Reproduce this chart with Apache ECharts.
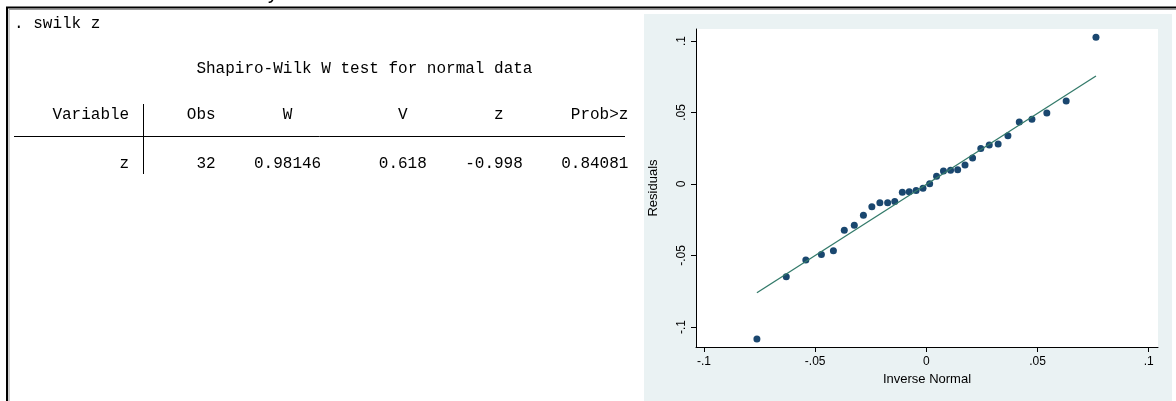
<!DOCTYPE html>
<html>
<head>
<meta charset="utf-8">
<script src="https://cdn.jsdelivr.net/npm/echarts@6/dist/echarts.min.js"></script>
<style>
html,body{margin:0;padding:0;background:#fff;}
#c{width:1176px;height:401px;}
</style>
</head>
<body>
<div id="c"></div>
<script>
// ---- data ----
const inverseNormal = [-0.0762, -0.0630, -0.0542, -0.0472, -0.0418, -0.0369, -0.0324, -0.0283, -0.0245, -0.0209, -0.0174, -0.0142, -0.0108, -0.0077, -0.0046, -0.0015, 0.0015, 0.0046, 0.0077, 0.0109, 0.0141, 0.0174, 0.0208, 0.0245, 0.0283, 0.0323, 0.0367, 0.0418, 0.0475, 0.0542, 0.0629, 0.0763];
const residuals = [-0.1084, -0.0648, -0.0532, -0.0493, -0.0466, -0.0324, -0.0288, -0.0219, -0.0160, -0.0132, -0.0132, -0.0122, -0.0057, -0.0054, -0.0045, -0.0029, 0.0002, 0.0055, 0.0091, 0.0096, 0.0100, 0.0132, 0.0181, 0.0248, 0.0273, 0.0279, 0.0337, 0.0434, 0.0452, 0.0497, 0.0580, 0.1026];
const refLineX = [-0.0762, 0.0763];
const refLineY = [-0.0761, 0.0755];
const xTickValues = [-0.1, -0.05, 0, 0.05, 0.1];
const xTickLabels = ['-.1', '-.05', '0', '.05', '.1'];
const yTickValues = [-0.1, -0.05, 0, 0.05, 0.1];
const yTickLabels = ['-.1', '-.05', '0', '.05', '.1'];

// Stata results text
const commandLine = '. swilk z';
const tableTitle = 'Shapiro-Wilk W test for normal data';
const headerCells = ['Variable', 'Obs', 'W', 'V', 'z', 'Prob>z'];
const headerEndCols = [12, 21, 29, 41, 51, 64];
const rowCells = ['z', '32', '0.98146', '0.618', '-0.998', '0.84081'];
const rowEndCols = [12, 21, 32, 43, 53, 64];

// ---- build ----
const mono = '"Liberation Mono", "Courier New", monospace';
const sans = '"Liberation Sans", Arial, sans-serif';
const x0 = 14, adv = 9.6;

const graphics = [];
graphics.push({type:'rect', z:-100, silent:true, shape:{x:644,y:14,width:528,height:390}, style:{fill:'#EAF2F3'}});
// outer frame
graphics.push({type:'polyline', silent:true, shape:{points:[[7,402],[7,7.5],[1177,7.5]]}, style:{stroke:'#000',lineWidth:2,fill:null}});
graphics.push({type:'polyline', silent:true, shape:{points:[[9,402],[9,9.5],[1177,9.5]]}, style:{stroke:'#9a9a9a',lineWidth:1,fill:null}});
// cut-off glyph above
graphics.push({type:'text', silent:true, style:{x:268,y:-17,text:'y',font:'20px '+sans,fill:'#000',textVerticalAlign:'top'}});
graphics.push({type:'text', silent:true, style:{x:x0,y:23.3,text:commandLine,font:'16px '+mono,fill:'#000',textVerticalAlign:'middle'}});
graphics.push({type:'text', silent:true, style:{x:x0+19*adv,y:68.3,text:tableTitle,font:'16px '+mono,fill:'#000',textVerticalAlign:'middle'}});
headerCells.forEach((t,i)=>graphics.push({type:'text', silent:true, style:{x:x0+headerEndCols[i]*adv,y:115,text:t,font:'16px '+mono,fill:'#000',textAlign:'right',textVerticalAlign:'middle'}}));
rowCells.forEach((t,i)=>graphics.push({type:'text', silent:true, style:{x:x0+rowEndCols[i]*adv,y:163.3,text:t,font:'16px '+mono,fill:'#000',textAlign:'right',textVerticalAlign:'middle'}}));
graphics.push({type:'line', silent:true, shape:{x1:14,y1:136.5,x2:625,y2:136.5}, style:{stroke:'#000',lineWidth:1}});
graphics.push({type:'line', silent:true, shape:{x1:143.5,y1:104,x2:143.5,y2:174}, style:{stroke:'#000',lineWidth:1}});

const chart = echarts.init(document.getElementById('c'), null, {renderer:'canvas'});
chart.setOption({
  backgroundColor:'#fff',
  animation:false,
  graphic: graphics,
  grid:{left:696, right:18, top:29, bottom:54, show:true, backgroundColor:'#fff', borderWidth:0},
  xAxis:{
    type:'value', min:-0.1036, max:0.1042,
    name:'Inverse Normal', nameLocation:'middle', nameGap:23,
    nameTextStyle:{color:'#000', fontSize:13, fontFamily:sans},
    axisLine:{show:true, onZero:false, lineStyle:{color:'#000', width:1}},
    axisTick:{show:true, length:5, customValues:xTickValues, lineStyle:{color:'#000'}},
    axisLabel:{customValues:xTickValues, margin:9, color:'#000', fontSize:12, fontFamily:sans,
      formatter:(v)=>{const i=xTickValues.findIndex(t=>Math.abs(t-v)<1e-9); return i>=0?xTickLabels[i]:'';}},
    splitLine:{show:false}
  },
  yAxis:{
    type:'value', min:-0.114, max:0.1084,
    name:'Residuals', nameLocation:'middle', nameGap:36,
    nameTextStyle:{color:'#000', fontSize:13, fontFamily:sans},
    axisLine:{show:true, onZero:false, lineStyle:{color:'#000', width:1}},
    axisTick:{show:true, length:5, customValues:yTickValues, lineStyle:{color:'#000'}},
    axisLabel:{customValues:yTickValues, rotate:90, margin:8, color:'#000', fontSize:12, fontFamily:sans,
      formatter:(v)=>{const i=yTickValues.findIndex(t=>Math.abs(t-v)<1e-9); return i>=0?yTickLabels[i]:'';}},
    splitLine:{show:false}
  },
  series:[
    {type:'scatter', data:inverseNormal.map((x,i)=>[x,residuals[i]]), symbolSize:7,
      itemStyle:{color:'#1A476F', opacity:1}, z:2},
    {type:'line', data:refLineX.map((x,i)=>[x,refLineY[i]]), symbol:'none',
      lineStyle:{color:'#337A6A', width:1.3}, z:3}
  ]
});
</script>
</body>
</html>
